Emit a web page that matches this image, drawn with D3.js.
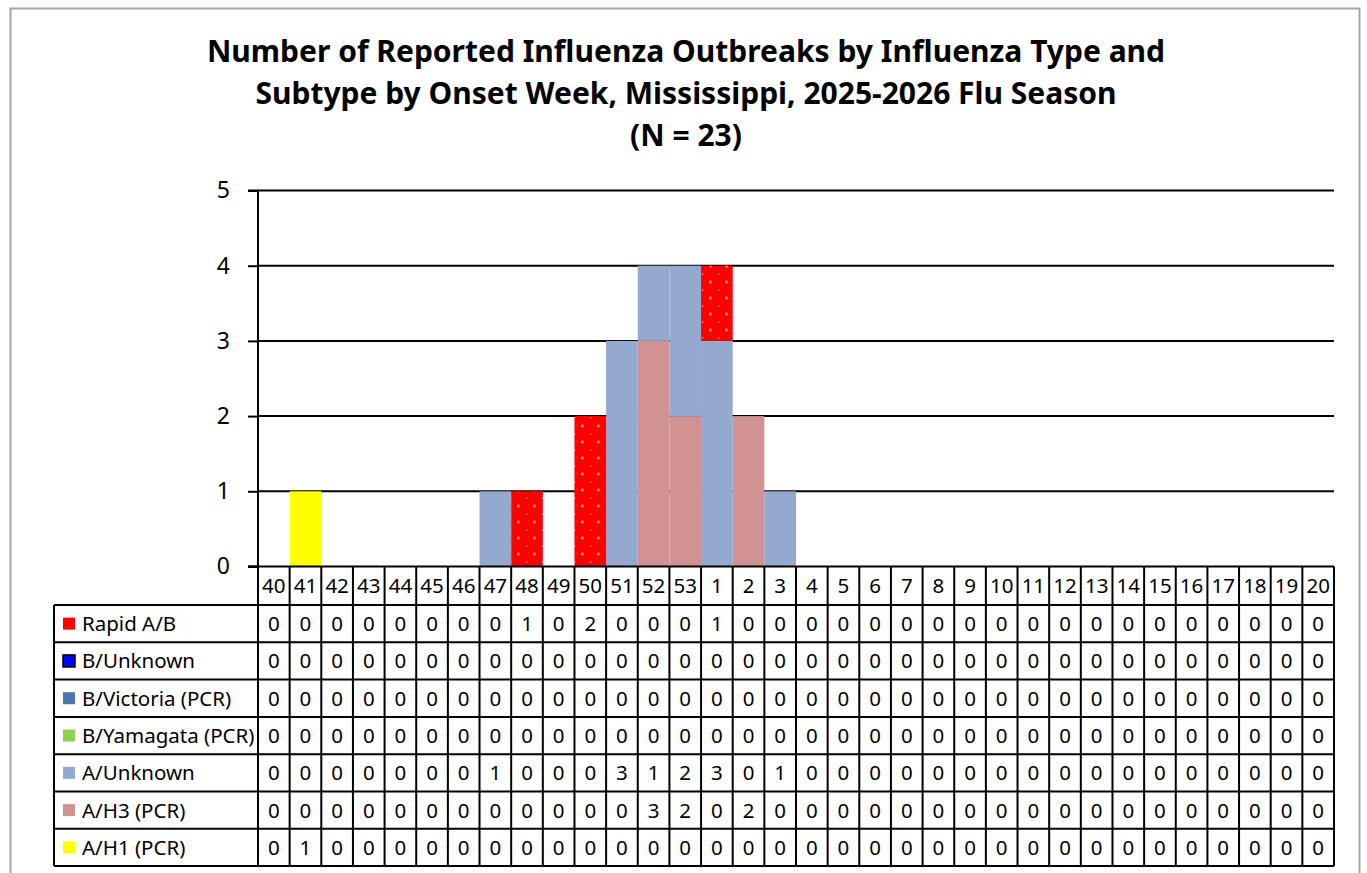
<!DOCTYPE html>
<html>
<head>
<meta charset="utf-8">
<script src="https://cdn.jsdelivr.net/npm/d3@7"></script>
<style>
  body { margin: 0; background: #fff; }
  svg { font-family: "Noto Sans", "Open Sans", sans-serif; }
</style>
</head>
<body>
<div id="chart"></div>
<script>
const weeks = [40, 41, 42, 43, 44, 45, 46, 47, 48, 49, 50, 51, 52, 53,
  1, 2, 3, 4, 5, 6, 7, 8, 9, 10, 11, 12, 13, 14, 15, 16, 17, 18, 19, 20];

const rapidAB      = [0,0,0,0,0,0,0,0,1,0,2,0,0,0,1,0,0,0,0,0,0,0,0,0,0,0,0,0,0,0,0,0,0,0];
const bUnknown     = [0,0,0,0,0,0,0,0,0,0,0,0,0,0,0,0,0,0,0,0,0,0,0,0,0,0,0,0,0,0,0,0,0,0];
const bVictoria    = [0,0,0,0,0,0,0,0,0,0,0,0,0,0,0,0,0,0,0,0,0,0,0,0,0,0,0,0,0,0,0,0,0,0];
const bYamagata    = [0,0,0,0,0,0,0,0,0,0,0,0,0,0,0,0,0,0,0,0,0,0,0,0,0,0,0,0,0,0,0,0,0,0];
const aUnknown     = [0,0,0,0,0,0,0,1,0,0,0,3,1,2,3,0,1,0,0,0,0,0,0,0,0,0,0,0,0,0,0,0,0,0];
const aH3          = [0,0,0,0,0,0,0,0,0,0,0,0,3,2,0,2,0,0,0,0,0,0,0,0,0,0,0,0,0,0,0,0,0,0];
const aH1          = [0,1,0,0,0,0,0,0,0,0,0,0,0,0,0,0,0,0,0,0,0,0,0,0,0,0,0,0,0,0,0,0,0,0];

const yTicks = [0, 1, 2, 3, 4, 5];

// table order (top to bottom) = stack order reversed
const series = [
  {name: 'Rapid A/B', values: rapidAB, color: '#ff0000', dots: true},
  {name: 'B/Unknown', values: bUnknown, color: '#0000ff', keyStroke: '#000'},
  {name: 'B/Victoria (PCR)', values: bVictoria, color: '#4a76ab'},
  {name: 'B/Yamagata (PCR)', values: bYamagata, color: '#92d050'},
  {name: 'A/Unknown', values: aUnknown, color: '#95a9cf'},
  {name: 'A/H3 (PCR)', values: aH3, color: '#d09292'},
  {name: 'A/H1 (PCR)', values: aH1, color: '#ffff00'}
];

const W = 1367, H = 873;
const plot = {left: 258, right: 1334, top: 190.5, bottom: 566.5};
const rowH = 37.3, headH = 38.5, tableLeft = 54;
const cellFont = 20.5;

const svg = d3.select('#chart').append('svg')
    .attr('width', W)
    .attr('height', H);

// dotted fill for the rapid test bars
const defs = svg.append('defs');
const pat = defs.append('pattern')
    .attr('id', 'reddots')
    .attr('patternUnits', 'userSpaceOnUse')
    .attr('width', 16)
    .attr('height', 16);
pat.append('rect').attr('width', 16).attr('height', 16).attr('fill', '#ff0000');
pat.append('circle').attr('cx', 6.5).attr('cy', 10).attr('r', 1.6).attr('fill', '#ff8c8c');
pat.append('circle').attr('cx', 14.5).attr('cy', 2).attr('r', 1).attr('fill', '#ff6060');

// outer frame
svg.append('rect')
    .attr('x', 10.5).attr('y', 8.5)
    .attr('width', 1349).attr('height', 900)
    .attr('fill', 'none')
    .attr('stroke', '#a6a6a6')
    .attr('stroke-width', 2);

// title
const titleLines = [
  'Number of Reported Influenza Outbreaks by Influenza Type and',
  'Subtype by Onset Week, Mississippi, 2025-2026 Flu Season',
  '(N = 23)'
];
svg.append('g').selectAll('text')
  .data(titleLines).join('text')
    .attr('x', 686)
    .attr('y', (d, i) => 62 + i * 42)
    .attr('text-anchor', 'middle')
    .attr('font-size', 30)
    .attr('font-weight', 'bold')
    .text(d => d);

const x = d3.scaleBand()
    .domain(weeks.map(String))
    .range([plot.left, plot.right])
    .padding(0);

const y = d3.scaleLinear()
    .domain([0, 5])
    .range([plot.bottom, plot.top]);

// gridlines
svg.append('g').selectAll('line')
  .data(yTicks.filter(t => t > 0)).join('line')
    .attr('x1', plot.left).attr('x2', plot.right)
    .attr('y1', d => y(d)).attr('y2', d => y(d))
    .attr('stroke', '#000')
    .attr('stroke-width', 2);

// stacked bars
const stackKeys = series.map(s => s.name).reverse();
const rows = weeks.map((w, i) => {
  const r = {week: String(w)};
  series.forEach(s => { r[s.name] = s.values[i]; });
  return r;
});
const stacked = d3.stack().keys(stackKeys)(rows);
const colorOf = name => {
  const s = series.find(d => d.name === name);
  return s.dots ? 'url(#reddots)' : s.color;
};

svg.append('g').selectAll('g')
  .data(stacked).join('g')
    .attr('fill', d => colorOf(d.key))
  .selectAll('rect')
  .data(d => d.filter(p => p[1] > p[0])).join('rect')
    .attr('x', d => x(d.data.week))
    .attr('width', x.bandwidth())
    .attr('y', d => y(d[1]))
    .attr('height', d => y(d[0]) - y(d[1]));

// y axis
const yAxis = d3.axisLeft(y).tickValues(yTicks).tickSize(10).tickPadding(18).tickFormat(d3.format('d'));
const ya = svg.append('g')
    .attr('transform', `translate(${plot.left},0)`)
    .call(yAxis);
ya.select('.domain').attr('stroke', '#000').attr('stroke-width', 2).attr('d', `M-10,${plot.top}H0V${plot.bottom}H-10`);
ya.selectAll('.tick line').attr('stroke', '#000').attr('stroke-width', 2);
ya.selectAll('.tick text')
    .attr('font-size', 23)
    .attr('fill', '#000')
    .attr('font-family', '"Noto Sans", sans-serif');

// data table
const table = svg.append('g');
const tableTop = plot.bottom;
const bodyTop = tableTop + headH;
const tableBottom = bodyTop + rowH * series.length;

// week header
table.selectAll('.wk')
  .data(weeks).join('text')
    .attr('class', 'wk')
    .attr('x', d => x(String(d)) + x.bandwidth() / 2)
    .attr('y', tableTop + headH / 2)
    .attr('dy', '0.36em')
    .attr('text-anchor', 'middle')
    .attr('font-size', cellFont)
    .text(d => d);

// cell values
series.forEach((s, r) => {
  table.append('g').selectAll('text')
    .data(s.values).join('text')
      .attr('x', (d, i) => x(String(weeks[i])) + x.bandwidth() / 2)
      .attr('y', bodyTop + rowH * r + rowH / 2)
      .attr('dy', '0.36em')
      .attr('text-anchor', 'middle')
      .attr('font-size', cellFont)
      .text(d => d);
});

// series labels with keys
const lab = table.selectAll('.lab')
  .data(series).join('g')
    .attr('class', 'lab')
    .attr('transform', (d, i) => `translate(${tableLeft},${bodyTop + rowH * i + rowH / 2})`);
lab.append('rect')
    .attr('x', 9).attr('y', -6)
    .attr('width', 12).attr('height', 12)
    .attr('fill', d => d.color)
    .attr('stroke', d => d.keyStroke || 'none')
    .attr('stroke-width', 1.5);
lab.append('text')
    .attr('x', 28)
    .attr('dy', '0.36em')
    .attr('font-size', cellFont)
    .text(d => d.name);

// table lines
const lineG = table.append('g').attr('stroke', '#000').attr('stroke-width', 2);
weeks.forEach(w => {
  lineG.append('line')
    .attr('x1', x(String(w))).attr('x2', x(String(w)))
    .attr('y1', tableTop).attr('y2', tableBottom);
});
lineG.append('line')
  .attr('x1', plot.right).attr('x2', plot.right)
  .attr('y1', tableTop).attr('y2', tableBottom);
lineG.append('line')
  .attr('x1', tableLeft).attr('x2', tableLeft)
  .attr('y1', bodyTop).attr('y2', tableBottom);
lineG.append('line')
  .attr('x1', plot.left - 10).attr('x2', plot.right)
  .attr('y1', tableTop).attr('y2', tableTop);
d3.range(series.length + 1).forEach(i => {
  lineG.append('line')
    .attr('x1', tableLeft).attr('x2', plot.right)
    .attr('y1', bodyTop + rowH * i).attr('y2', bodyTop + rowH * i);
});
</script>
</body>
</html>
